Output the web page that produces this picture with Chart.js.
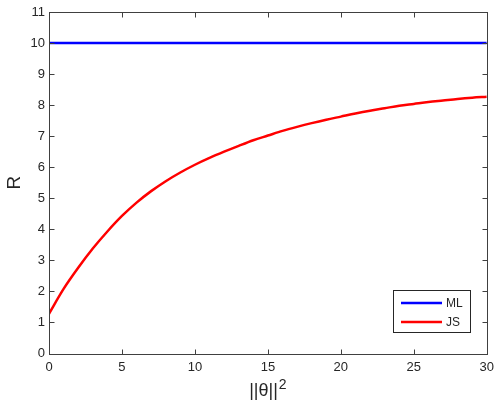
<!DOCTYPE html>
<html>
<head>
<meta charset="utf-8">
<script src="https://cdn.jsdelivr.net/npm/chart.js@4"></script>
<style>
html,body{margin:0;padding:0;background:#fff;}
#wrap{width:500px;height:407px;}
</style>
</head>
<body>
<div id="wrap"><canvas id="c" width="500" height="407"></canvas></div>
<script>
const thetaSq = [0,1,2,3,4,5,6,7,8,9,10,11,12,13,14,15,16,17,18,19,20,21,22,23,24,25,26,27,28,29,30];
const mlRisk  = [10,10,10,10,10,10,10,10,10,10,10,10,10,10,10,10,10,10,10,10,10,10,10,10,10,10,10,10,10,10,10];
const jsRisk  = [1.28,2.08,2.76,3.38,3.93,4.43,4.86,5.23,5.55,5.83,6.08,6.3,6.5,6.69,6.87,7.02,7.17,7.3,7.42,7.53,7.63,7.73,7.82,7.9,7.98,8.04,8.1,8.15,8.2,8.24,8.27];
const xTicks = [0,5,10,15,20,25,30];
const yTicks = [0,1,2,3,4,5,6,7,8,9,10,11];
const seriesNames = ['ML','JS'];
const seriesColors = ['#0000ff','#ff0000'];

const FONT = "'Liberation Sans', Arial, Helvetica, sans-serif";
const AX = '#404040';

const matlabPlugin = {
  id: 'matlab',
  afterDraw(chart) {
    const ctx = chart.ctx;
    const a = chart.chartArea;
    const xs = chart.scales.x, ys = chart.scales.y;
    ctx.save();
    ctx.strokeStyle = AX;
    ctx.lineWidth = 1;
    const L = Math.round(a.left)+0.5, R = Math.round(a.right)+0.5, T = Math.round(a.top)+0.5, B = Math.round(a.bottom)+0.5;
    ctx.strokeRect(L, T, R-L, B-T);
    const tl = 5;
    ctx.beginPath();
    xTicks.forEach(v => {
      const px = Math.round(xs.getPixelForValue(v))+0.5;
      ctx.moveTo(px, B); ctx.lineTo(px, B-tl);
      ctx.moveTo(px, T); ctx.lineTo(px, T+tl);
    });
    yTicks.forEach(v => {
      const py = Math.round(ys.getPixelForValue(v))+0.5;
      ctx.moveTo(L, py); ctx.lineTo(L+tl, py);
      ctx.moveTo(R, py); ctx.lineTo(R-tl, py);
    });
    ctx.stroke();

    // x axis title with superscript
    ctx.fillStyle = '#262626';
    ctx.textBaseline = 'alphabetic';
    const base = '||θ||';
    ctx.font = '18px ' + FONT;
    const w1 = ctx.measureText(base).width;
    ctx.font = '14px ' + FONT;
    const w2 = ctx.measureText('2').width;
    const cx = (a.left + a.right)/2;
    const sx = cx - (w1 + w2 + 1)/2;
    ctx.font = '18px ' + FONT;
    ctx.textAlign = 'left';
    ctx.fillText(base, sx, 396);
    ctx.font = '14px ' + FONT;
    ctx.fillText('2', sx + w1 + 1, 389);

    // legend
    const lx = 393.5, ly = 290.5, lw = 77, lh = 42;
    ctx.fillStyle = '#ffffff';
    ctx.fillRect(lx, ly, lw, lh);
    ctx.strokeStyle = '#262626';
    ctx.lineWidth = 1;
    ctx.strokeRect(lx, ly, lw, lh);
    chart.data.datasets.forEach((ds, i) => {
      const yy = 303 + i*19;
      ctx.strokeStyle = ds.borderColor;
      ctx.lineWidth = 2.5;
      ctx.beginPath();
      ctx.moveTo(401, yy); ctx.lineTo(442, yy);
      ctx.stroke();
      ctx.fillStyle = '#262626';
      ctx.font = '12px ' + FONT;
      ctx.textBaseline = 'middle';
      ctx.fillText(ds.label, 446, yy + 0.5);
    });
    ctx.restore();
  }
};

new Chart(document.getElementById('c'), {
  type: 'line',
  data: {
    datasets: [
      { label: seriesNames[0], data: thetaSq.map((x,i)=>({x, y: mlRisk[i]})), borderColor: seriesColors[0], borderWidth: 2.5, pointRadius: 0, tension: 0, fill: false },
      { label: seriesNames[1], data: thetaSq.map((x,i)=>({x, y: jsRisk[i]})), borderColor: seriesColors[1], borderWidth: 2.5, pointRadius: 0, cubicInterpolationMode: 'monotone', fill: false }
    ]
  },
  options: {
    responsive: false,
    animation: false,
    devicePixelRatio: 1,
    layout: { padding: { left: 0, right: 13, top: 12, bottom: 0 } },
    plugins: { legend: { display: false }, tooltip: { enabled: false } },
    scales: {
      x: {
        type: 'linear', min: 0, max: 30,
        afterBuildTicks: s => { s.ticks = xTicks.map(v => ({value: v})); },
        afterFit: s => { s.height = 53.5; },
        grid: { display: false, drawTicks: false },
        border: { display: false },
        ticks: { padding: 6, color: '#262626', font: { family: FONT, size: 13 } },
        title: { display: false }
      },
      y: {
        type: 'linear', min: 0, max: 11,
        afterBuildTicks: s => { s.ticks = yTicks.map(v => ({value: v})); },
        afterFit: s => { s.width = 49; },
        grid: { display: false, drawTicks: false },
        border: { display: false },
        ticks: { padding: 4, color: '#262626', font: { family: FONT, size: 13 } },
        title: { display: true, text: 'R', color: '#262626', font: { family: FONT, size: 19 }, padding: { top: 3, bottom: 0 } }
      }
    }
  },
  plugins: [matlabPlugin]
});
</script>
</body>
</html>
